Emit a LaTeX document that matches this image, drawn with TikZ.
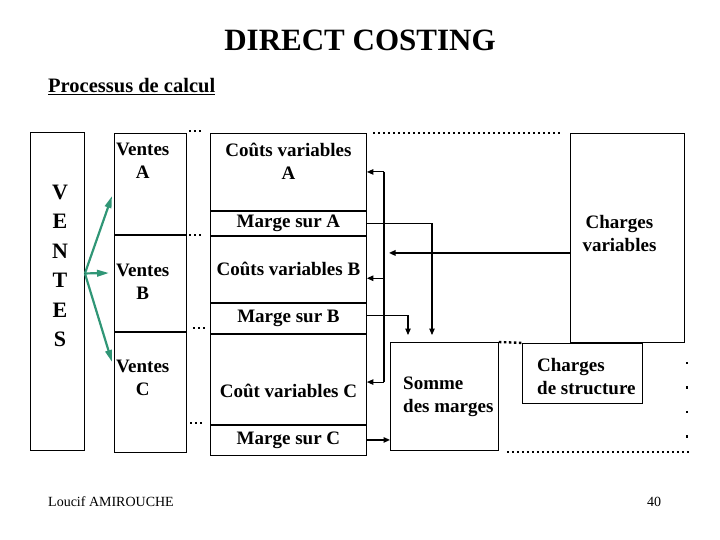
\documentclass[tikz,border=0pt]{standalone}
\usepackage{fontspec}
\setmainfont{Liberation Serif}
\usetikzlibrary{calc,positioning,arrows.meta}
\definecolor{ventgreen}{RGB}{48,150,118}
\tikzstyle{cell} = [rectangle, draw=black, line width=0.9pt, inner sep=0pt, anchor=north west]
\tikzstyle{arrow} = [line width=1.1pt, -{Triangle[length=6.5pt,width=5.5pt]}]
\tikzstyle{line} = [line width=1.1pt]
\tikzstyle{dots} = [line width=2.4pt, dash pattern=on 2.4pt off 2.6pt]

\begin{document}
\begin{tikzpicture}[x=1pt,y=-1pt]
\tikzset{%
	lbl/.style = {font=\bfseries\fontsize{19}{23}\selectfont, align=center, inner sep=0pt},
	gr/.style = {draw=ventgreen, line width=2.2pt, -{Triangle[length=12pt,width=6.5pt]}}
}
\useasboundingbox (0,0) rectangle (720,540);

\node(title) [font=\bfseries\fontsize{31}{36}\selectfont] at (360,40) {DIRECT COSTING};
\node(proc) [anchor=west, inner sep=0pt, font=\bfseries\fontsize{20.5}{24}\selectfont] at (48,87) {\underline{Processus de calcul}};

% ventes
\node(ventes) [cell, minimum width=54, minimum height=318] at (30,132) {};
\node(vtxt) [font=\bfseries\fontsize{22}{29.5}\selectfont, align=center, inner sep=0pt] at (60,266) {V\\E\\N\\T\\E\\S};

\node(va) [cell, minimum width=72, minimum height=101] at (114,133) {};
\node(vb) [cell, minimum width=72, minimum height=96, below=0pt of va.south west, anchor=north west] {};
\node(vc) [cell, minimum width=72, minimum height=120, below=0pt of vb.south west, anchor=north west] {};
\node(vat) [lbl, anchor=north west] at ($(va.north west)+(2,10)$) {Ventes\\A};
\node(vbt) [lbl, anchor=north west] at ($(vb.north west)+(2,29)$) {Ventes\\B};
\node(vct) [lbl, anchor=north west] at ($(vc.north west)+(2,28)$) {Ventes\\C};

% couts et marges
\node(ca) [cell, minimum width=156, minimum height=77] at (210,133) {};
\node(ma) [cell, lbl, minimum width=156, minimum height=24, below=0pt of ca.south west, anchor=north west] {Marge sur A};
\node(cb) [cell, lbl, minimum width=156, minimum height=66, below=0pt of ma.south west, anchor=north west] {Coûts variables B};
\node(mb) [cell, lbl, minimum width=156, minimum height=30, below=0pt of cb.south west, anchor=north west] {Marge sur B};
\node(cc) [cell, minimum width=156, minimum height=90, below=0pt of mb.south west, anchor=north west] {};
\node(mc) [cell, lbl, minimum width=156, minimum height=30, below=0pt of cc.south west, anchor=north west] {Marge sur C};
\node(cat) [lbl] at ($(ca.center)+(0,-11)$) {Coûts variables\\A};
\node(cct) [lbl] at ($(cc.center)+(0,12)$) {Coût variables C};

% charges
\node(chv) [cell, minimum width=114, minimum height=209] at (570,133) {};
\node(chvt) [lbl] at ($(chv.center)+(-8,-4)$) {Charges\\variables};
\node(chs) [cell, minimum width=120, minimum height=60, below=0pt of chv.south west, xshift=-48pt, anchor=north west] {};
\node(chst) [lbl, align=left, anchor=west] at ($(chs.west)+(15,3)$) {Charges\\de structure};
\node(sm) [cell, minimum width=108, minimum height=108] at (390,342) {};
\node(smt) [lbl, align=left, anchor=west] at ($(sm.west)+(13,0)$) {Somme\\des marges};

% fleches
\draw [gr] ($(ventes.east)+(0,-18)$) coordinate (vsrc) -- (112,196) coordinate (ta);
\draw [gr] (vsrc) -- (109,273) coordinate (tb);
\draw [gr] (vsrc) -- (112,362) coordinate (tc);

\coordinate (bus) at (384,0);
\coordinate (inb) at ($(cb.east)+(0,9)$);
\coordinate (inc) at ($(cc.east)+(0,3)$);
\draw [line] (bus |- ca.east) -- (bus |- inc);
\draw [arrow] (bus |- ca.east) -- (ca.east);
\draw [arrow] (bus |- inb) -- (inb);
\draw [arrow] (bus |- inc) -- (inc);
\draw [arrow, line width=2.4pt, shorten >=5pt] ($(chv.west)+(0,15)$) coordinate (cv) -- (cv -| bus);

\draw [arrow] (ma.east) -| ($(sm.north west)+(42,-7)$);
\draw [arrow] ($(mb.east)+(0,-3)$) -| ($(sm.north west)+(18,-7)$);
\draw [arrow] (mc.east) -- (mc.east -| sm.west);

% pointilles
\draw [dots] (189,131) -- (203,131);
\draw [dots] (189,235) -- (203,235);
\draw [dots] (193,328) -- (207,328);
\draw [dots] (190,423) -- (204,423);
\draw [dots] (373,133) -- (561,133);
\draw [dots] (sm.north east) -- (chs.north west);
\draw [dots] (507,452) -- (689,452);
\draw [line width=2.4pt, dash pattern=on 2.4pt off 22pt] (687,362) -- (687,438);

\node(auth) [anchor=west, inner sep=0pt, font=\fontsize{14}{16}\selectfont] at (48,502) {Loucif AMIROUCHE};
\node(page) [inner sep=0pt, font=\fontsize{14}{16}\selectfont] at (654,502) {40};
\end{tikzpicture}
\end{document}
